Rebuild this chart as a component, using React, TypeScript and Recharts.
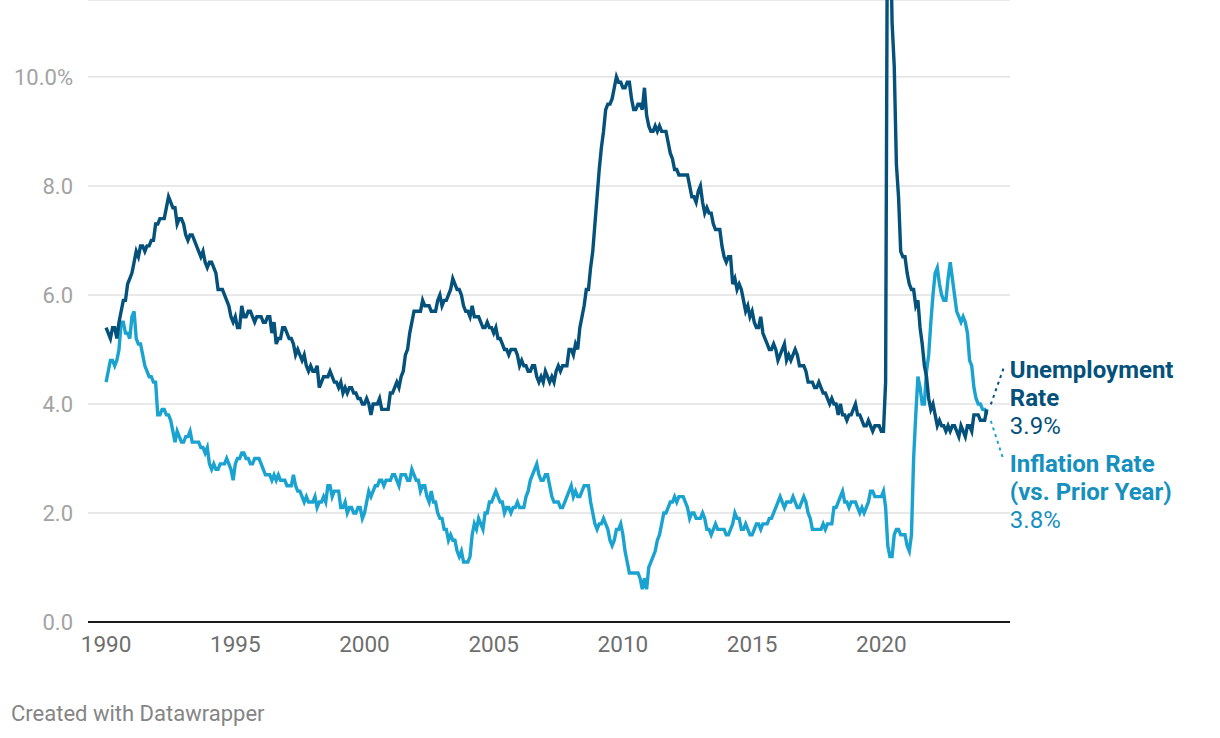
import React from "react";
import { LineChart, Line, XAxis, YAxis, CartesianGrid } from "recharts";

// monthly values, Jan 1990 - Feb 2024
const START_YEAR = 1990;

const unemploymentRate = [
  5.4, 5.3, 5.2, 5.4, 5.4, 5.2, 5.5, 5.7, 5.9, 5.9, 6.2, 6.3,
  6.4, 6.6, 6.8, 6.7, 6.9, 6.9, 6.8, 6.9, 6.9, 7.0, 7.0, 7.3,
  7.3, 7.4, 7.4, 7.4, 7.6, 7.8, 7.7, 7.6, 7.6, 7.3, 7.4, 7.4,
  7.3, 7.1, 7.0, 7.1, 7.1, 7.0, 6.9, 6.8, 6.7, 6.8, 6.6, 6.5,
  6.6, 6.6, 6.5, 6.4, 6.1, 6.1, 6.1, 6.0, 5.9, 5.8, 5.6, 5.5,
  5.6, 5.4, 5.4, 5.8, 5.6, 5.6, 5.7, 5.7, 5.6, 5.5, 5.6, 5.6,
  5.6, 5.5, 5.5, 5.6, 5.6, 5.3, 5.5, 5.1, 5.2, 5.2, 5.4, 5.4,
  5.3, 5.2, 5.2, 5.1, 4.9, 5.0, 4.9, 4.8, 4.9, 4.7, 4.6, 4.7,
  4.6, 4.6, 4.7, 4.3, 4.4, 4.5, 4.5, 4.5, 4.6, 4.5, 4.4, 4.4,
  4.3, 4.4, 4.2, 4.3, 4.2, 4.3, 4.3, 4.2, 4.2, 4.1, 4.1, 4.0,
  4.0, 4.1, 4.0, 3.8, 4.0, 4.0, 4.0, 4.1, 3.9, 3.9, 3.9, 3.9,
  4.2, 4.2, 4.3, 4.4, 4.3, 4.5, 4.6, 4.9, 5.0, 5.3, 5.5, 5.7,
  5.7, 5.7, 5.7, 5.9, 5.8, 5.8, 5.8, 5.7, 5.7, 5.7, 5.9, 6.0,
  5.8, 5.9, 5.9, 6.0, 6.1, 6.3, 6.2, 6.1, 6.1, 6.0, 5.8, 5.7,
  5.7, 5.6, 5.8, 5.6, 5.6, 5.6, 5.5, 5.4, 5.4, 5.5, 5.4, 5.4,
  5.3, 5.4, 5.2, 5.2, 5.1, 5.0, 5.0, 4.9, 5.0, 5.0, 5.0, 4.9,
  4.7, 4.8, 4.7, 4.7, 4.6, 4.6, 4.7, 4.7, 4.5, 4.4, 4.5, 4.4,
  4.6, 4.5, 4.4, 4.5, 4.4, 4.6, 4.7, 4.6, 4.7, 4.7, 4.7, 5.0,
  5.0, 4.9, 5.1, 5.0, 5.4, 5.6, 5.8, 6.1, 6.1, 6.5, 6.8, 7.3,
  7.8, 8.3, 8.7, 9.0, 9.4, 9.5, 9.5, 9.6, 9.8, 10.0, 9.9, 9.9,
  9.8, 9.8, 9.9, 9.9, 9.6, 9.4, 9.4, 9.5, 9.5, 9.4, 9.8, 9.3,
  9.1, 9.0, 9.0, 9.1, 9.0, 9.1, 9.0, 9.0, 9.0, 8.8, 8.6, 8.5,
  8.3, 8.3, 8.2, 8.2, 8.2, 8.2, 8.2, 8.0, 7.8, 7.8, 7.7, 7.9,
  8.0, 7.7, 7.5, 7.6, 7.5, 7.5, 7.3, 7.2, 7.2, 7.2, 6.9, 6.7,
  6.6, 6.7, 6.7, 6.2, 6.3, 6.1, 6.2, 6.1, 5.9, 5.7, 5.8, 5.6,
  5.7, 5.5, 5.4, 5.4, 5.6, 5.3, 5.2, 5.1, 5.0, 5.0, 5.1, 5.0,
  4.8, 4.9, 5.0, 5.1, 4.8, 4.9, 4.8, 4.9, 5.0, 4.9, 4.7, 4.7,
  4.7, 4.6, 4.4, 4.4, 4.4, 4.3, 4.3, 4.4, 4.3, 4.2, 4.2, 4.1,
  4.0, 4.1, 4.0, 4.0, 3.8, 4.0, 3.8, 3.8, 3.7, 3.8, 3.8, 3.9,
  4.0, 3.8, 3.8, 3.7, 3.6, 3.6, 3.7, 3.6, 3.5, 3.6, 3.6, 3.6,
  3.5, 3.5, 4.4, 14.8, 13.2, 11.0, 10.2, 8.4, 7.8, 6.8, 6.7, 6.7,
  6.4, 6.2, 6.1, 6.1, 5.8, 5.9, 5.4, 5.1, 4.7, 4.5, 4.1, 3.9,
  4.0, 3.8, 3.6, 3.7, 3.6, 3.6, 3.5, 3.6, 3.5, 3.6, 3.6, 3.5,
  3.4, 3.6, 3.5, 3.4, 3.6, 3.6, 3.5, 3.8, 3.8, 3.8, 3.7, 3.7,
  3.7, 3.9,
];

const inflationRate = [
  4.4, 4.6, 4.8, 4.8, 4.7, 4.8, 5.0, 5.5, 5.5, 5.3, 5.3, 5.2,
  5.6, 5.7, 5.2, 5.1, 5.1, 4.9, 4.7, 4.6, 4.5, 4.5, 4.4, 4.4,
  3.8, 3.8, 3.9, 3.9, 3.8, 3.8, 3.7, 3.5, 3.3, 3.5, 3.4, 3.3,
  3.3, 3.4, 3.4, 3.5, 3.3, 3.3, 3.3, 3.3, 3.2, 3.2, 3.1, 3.2,
  2.9, 2.8, 2.9, 2.8, 2.8, 2.9, 2.9, 2.9, 3.0, 2.9, 2.8, 2.6,
  2.9, 3.0, 3.0, 3.1, 3.1, 3.0, 3.0, 2.9, 2.9, 3.0, 3.0, 3.0,
  2.9, 2.8, 2.7, 2.7, 2.7, 2.6, 2.7, 2.6, 2.7, 2.6, 2.6, 2.6,
  2.5, 2.5, 2.5, 2.7, 2.5, 2.4, 2.4, 2.3, 2.2, 2.3, 2.2, 2.2,
  2.2, 2.3, 2.1, 2.2, 2.2, 2.3, 2.2, 2.5, 2.5, 2.3, 2.4, 2.4,
  2.4, 2.1, 2.1, 2.2, 2.0, 2.1, 2.1, 2.0, 2.0, 2.1, 2.1, 1.9,
  2.0, 2.2, 2.4, 2.3, 2.4, 2.5, 2.5, 2.6, 2.6, 2.5, 2.6, 2.6,
  2.6, 2.7, 2.7, 2.6, 2.5, 2.7, 2.7, 2.7, 2.6, 2.6, 2.8, 2.7,
  2.6, 2.6, 2.4, 2.5, 2.5, 2.3, 2.2, 2.4, 2.2, 2.2, 2.0, 1.9,
  1.9, 1.7, 1.7, 1.5, 1.6, 1.5, 1.5, 1.3, 1.2, 1.3, 1.1, 1.1,
  1.1, 1.2, 1.6, 1.8, 1.7, 1.9, 1.8, 1.7, 2.0, 2.0, 2.2, 2.2,
  2.3, 2.4, 2.3, 2.2, 2.2, 2.0, 2.1, 2.1, 2.0, 2.1, 2.1, 2.2,
  2.1, 2.1, 2.1, 2.3, 2.4, 2.6, 2.7, 2.8, 2.9, 2.7, 2.6, 2.6,
  2.7, 2.7, 2.5, 2.3, 2.2, 2.2, 2.2, 2.1, 2.1, 2.2, 2.3, 2.4,
  2.5, 2.3, 2.4, 2.3, 2.3, 2.4, 2.5, 2.5, 2.5, 2.2, 2.0, 1.8,
  1.7, 1.8, 1.8, 1.9, 1.8, 1.7, 1.5, 1.4, 1.5, 1.7, 1.7, 1.8,
  1.6, 1.3, 1.1, 0.9, 0.9, 0.9, 0.9, 0.9, 0.8, 0.6, 0.8, 0.6,
  1.0, 1.1, 1.2, 1.3, 1.5, 1.6, 1.8, 2.0, 2.0, 2.1, 2.2, 2.2,
  2.3, 2.2, 2.3, 2.3, 2.3, 2.2, 2.1, 1.9, 2.0, 2.0, 1.9, 1.9,
  1.9, 2.0, 1.9, 1.7, 1.7, 1.6, 1.7, 1.8, 1.7, 1.7, 1.7, 1.7,
  1.6, 1.6, 1.7, 1.8, 2.0, 1.9, 1.9, 1.7, 1.7, 1.8, 1.7, 1.6,
  1.6, 1.7, 1.8, 1.8, 1.7, 1.8, 1.8, 1.8, 1.9, 1.9, 2.0, 2.1,
  2.2, 2.3, 2.2, 2.1, 2.2, 2.2, 2.2, 2.3, 2.2, 2.1, 2.1, 2.2,
  2.3, 2.2, 2.0, 1.9, 1.7, 1.7, 1.7, 1.7, 1.7, 1.8, 1.7, 1.8,
  1.8, 1.8, 2.1, 2.1, 2.2, 2.3, 2.4, 2.2, 2.2, 2.1, 2.2, 2.2,
  2.2, 2.1, 2.0, 2.1, 2.0, 2.1, 2.2, 2.4, 2.4, 2.3, 2.3, 2.3,
  2.3, 2.4, 2.1, 1.4, 1.2, 1.2, 1.6, 1.7, 1.7, 1.6, 1.6, 1.6,
  1.4, 1.3, 1.6, 3.0, 3.8, 4.5, 4.3, 4.0, 4.0, 4.6, 4.9, 5.5,
  6.0, 6.4, 6.5, 6.2, 6.0, 5.9, 5.9, 6.3, 6.6, 6.3, 6.0, 5.7,
  5.6, 5.5, 5.6, 5.5, 5.3, 4.8, 4.7, 4.3, 4.1, 4.0, 4.0, 3.9,
  3.9, 3.8,
];

const yearTicks = [1990, 1995, 2000, 2005, 2010, 2015, 2020];
const rateTicks = [0, 2, 4, 6, 8, 10];

const UNEMP_COLOR = "#04517b";
const INFL_COLOR = "#1aa3d0";
const INFL_TEXT = "#1590bf";

const chartData = unemploymentRate.map((u, i) => ({
  date: START_YEAR + i / 12,
  unemployment: u,
  inflation: inflationRate[i],
}));

const lastIndex = chartData.length - 1;

const UnemploymentLabel = (props: any) => {
  const { x, y, index, value } = props;
  if (index !== lastIndex) return null;
  return (
    <g>
      <line
        x1={x + 4}
        y1={y - 5}
        x2={x + 17}
        y2={y - 42}
        stroke={UNEMP_COLOR}
        strokeWidth={2}
        strokeDasharray="3 4"
      />
      <text x={x + 23} y={y - 31} fill={UNEMP_COLOR} fontSize={24} fontWeight={700}>
        Unemployment
      </text>
      <text x={x + 23} y={y - 3} fill={UNEMP_COLOR} fontSize={24} fontWeight={700}>
        Rate
      </text>
      <text x={x + 23} y={y + 25} fill={UNEMP_COLOR} fontSize={24}>
        {Number(value).toFixed(1)}%
      </text>
    </g>
  );
};

const InflationLabel = (props: any) => {
  const { x, y, index, value } = props;
  if (index !== lastIndex) return null;
  return (
    <g>
      <line
        x1={x + 4}
        y1={y + 6}
        x2={x + 16}
        y2={y + 43}
        stroke={INFL_COLOR}
        strokeWidth={2}
        strokeDasharray="3 4"
      />
      <text x={x + 23} y={y + 57} fill={INFL_TEXT} fontSize={24} fontWeight={700}>
        Inflation Rate
      </text>
      <text x={x + 23} y={y + 85} fill={INFL_TEXT} fontSize={24} fontWeight={700}>
        (vs. Prior Year)
      </text>
      <text x={x + 23} y={y + 113} fill={INFL_TEXT} fontSize={24}>
        {Number(value).toFixed(1)}%
      </text>
    </g>
  );
};

export default function App() {
  return (
    <div
      style={{
        position: "absolute",
        left: 0,
        top: 0,
        width: 1220,
        height: 738,
        background: "#fff",
        fontFamily: "Roboto, 'Noto Sans', sans-serif",
      }}
    >
      <LineChart
        width={1220}
        height={738}
        data={chartData}
        margin={{ top: 0, right: 210, left: 0, bottom: 76 }}
      >
        <CartesianGrid vertical={false} stroke="#e2e2e2" strokeWidth={1.5} />
        <XAxis
          dataKey="date"
          type="number"
          domain={[1989.3, 2024.98]}
          ticks={yearTicks}
          height={40}
          tickLine={false}
          axisLine={{ stroke: "#1a1a1a", strokeWidth: 2 }}
          tickMargin={8}
          tick={{ fill: "#6e6e6e", fontSize: 22.5 }}
        />
        <YAxis
          type="number"
          domain={[0, 11.41]}
          allowDataOverflow
          ticks={rateTicks}
          width={88}
          tickLine={false}
          axisLine={false}
          tickMargin={9}
          tick={{ fill: "#a3a3a3", fontSize: 22 }}
          tickFormatter={(v: number) => (v === 10 ? "10.0%" : v.toFixed(1))}
        />
        <Line
          type="linear"
          dataKey="inflation"
          stroke={INFL_COLOR}
          strokeWidth={3.4}
          dot={false}
          isAnimationActive={false}
          label={InflationLabel}
        />
        <Line
          type="linear"
          dataKey="unemployment"
          stroke={UNEMP_COLOR}
          strokeWidth={3.4}
          dot={false}
          isAnimationActive={false}
          label={UnemploymentLabel}
        />
      </LineChart>
      <div
        style={{
          position: "absolute",
          left: 11,
          top: 701,
          fontSize: 22,
          color: "#858585",
        }}
      >
        Created with Datawrapper
      </div>
    </div>
  );
}
